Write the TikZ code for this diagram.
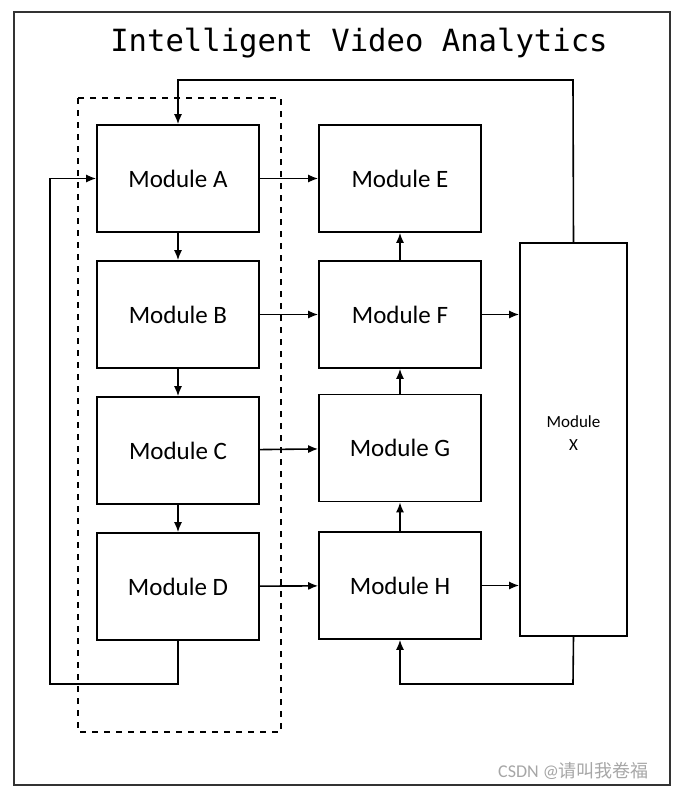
\documentclass[tikz,border=0pt]{standalone}
\usepackage{fontspec}
\setmainfont{Carlito}
\newfontfamily\titlefont{DejaVu Sans Mono}
\newfontfamily\cjk{Noto Sans CJK SC}
\usetikzlibrary{arrows.meta}
\begin{document}
\begin{tikzpicture}[x=0.5pt, y=-0.5pt,
  module/.style = {draw, thick, minimum width=81pt, minimum height=53.5pt, inner sep=0pt, font=\fontsize{12.5}{14}\selectfont},
  link/.style   = {thick, -{Latex[length=5pt,width=4pt]}}]
  \useasboundingbox (0,0) rectangle (684,800);
  \draw[thick, black!80] (14,12) rectangle (670,785);
  \node[font=\titlefont\fontsize{15.3}{17}\selectfont] (title) at (359,43) {Intelligent Video Analytics};
  \draw[thick, dashed] (78,98) rectangle (281,732);
  % left column
  \node[module] (A) at (178,178.5) {Module A};
  \node[module] (B) at (178,314.5) {Module B};
  \node[module] (C) at (178,450.5) {Module C};
  \node[module] (D) at (178,586.5) {Module D};
  % right column
  \node[module] (E) at (400,178.5) {Module E};
  \node[module] (F) at (400,314.5) {Module F};
  \node[module] (G) at (400,448) {Module G};
  \node[module] (H) at (400,585.5) {Module H};
  \node[module, minimum width=53.5pt, minimum height=196.5pt, font=\fontsize{8.5}{13}\selectfont] (X) at (573.5,439.5) {\raisebox{6pt}{\shortstack{Module\\[3pt]X}}};
  % horizontal links
  \draw[link] (A) -- (E);
  \draw[link] (B) -- (F);
  \draw[link] (C) -- (G);
  \draw[link] (D) -- (H);
  \draw[link] (F.east) -- (F.east -| X.west);
  \draw[link] (H.east) -- (H.east -| X.west);
  % vertical links
  \draw[link] (A) -- (B);
  \draw[link] (B) -- (C);
  \draw[link] (C) -- (D);
  \draw[link] (F) -- (E);
  \draw[link] (G) -- (F);
  \draw[link] (H) -- (G);
  % feedback loops
  \coordinate (xtop) at (573,80);
  \coordinate (dbot) at (178,684);
  \coordinate (xbot) at (573,684);
  \draw[link] (X.north) -- (xtop) -| (A.north);
  \draw[link] (D.south) -- (dbot) -- (50,684) |- (A.west);
  \draw[link] (X.south) -- (xbot) -| (H.south);
  \node[text=gray!70, font=\fontsize{9}{11}\selectfont, anchor=east] (mark) at (656,771) {CSDN @{\cjk 请叫我卷福}};
\end{tikzpicture}
\end{document}
